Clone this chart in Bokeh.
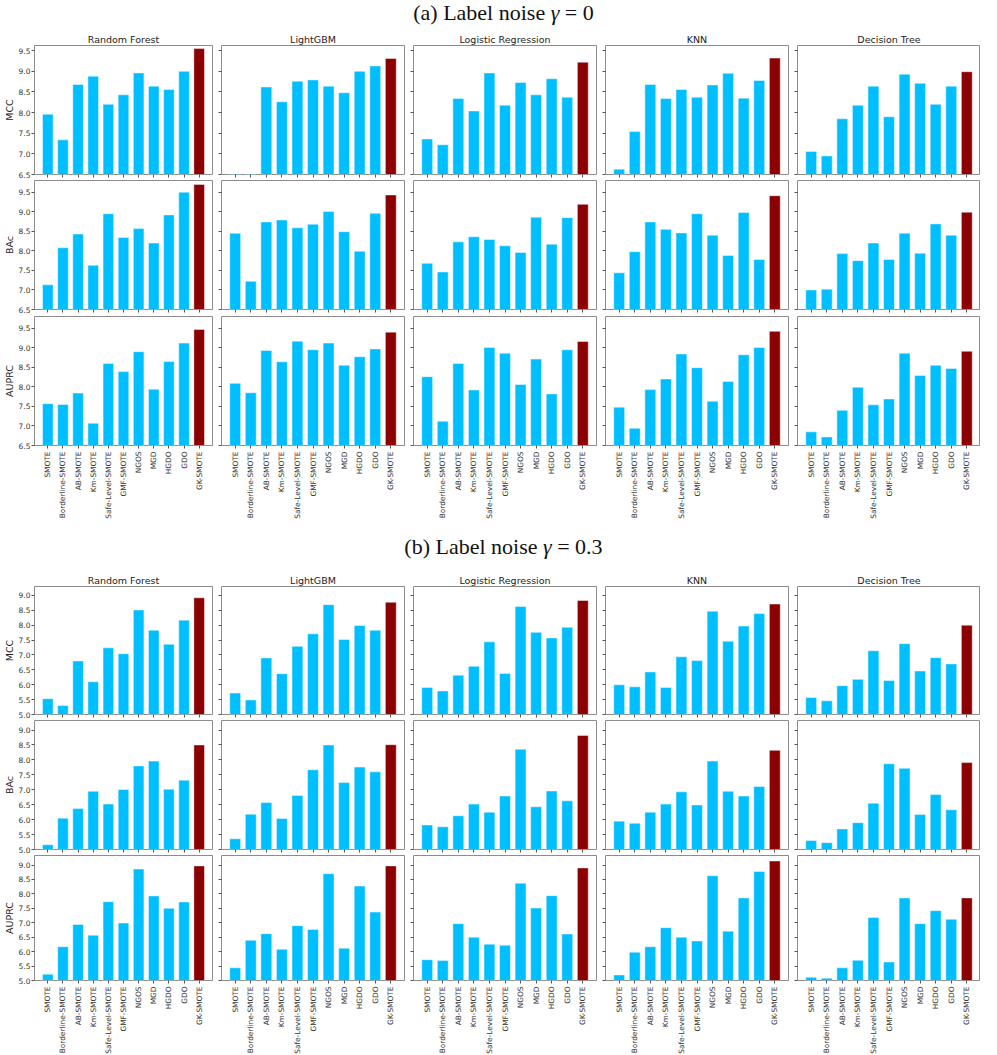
import math
from bokeh.plotting import figure
from bokeh.models import Range1d, FixedTicker, PrintfTickFormatter, ColumnDataSource, Div
from bokeh.layouts import column, row
from bokeh.embed import file_html
from bokeh.resources import INLINE

# ---------------- data ----------------
methods = ["SMOTE", "Borderline-SMOTE", "AB-SMOTE", "Km-SMOTE", "Safe-Level-SMOTE",
           "GMF-SMOTE", "NGOS", "MGD", "HGDO", "GDO", "GK-SMOTE"]
models = ["Random Forest", "LightGBM", "Logistic Regression", "KNN", "Decision Tree"]
metrics = ["MCC", "BAc", "AUPRC"]

# (a) label noise gamma = 0
mcc_g0_rf = [7.96, 7.34, 8.68, 8.88, 8.20, 8.43, 8.96, 8.64, 8.56, 9.00, 9.55]
mcc_g0_lgbm = [6.30, 6.20, 8.62, 8.26, 8.76, 8.79, 8.64, 8.48, 9.00, 9.13, 9.31]
mcc_g0_lr = [7.36, 7.22, 8.34, 8.04, 8.96, 8.18, 8.73, 8.43, 8.82, 8.37, 9.22]
mcc_g0_knn = [6.63, 7.54, 8.68, 8.34, 8.56, 8.37, 8.67, 8.95, 8.35, 8.78, 9.32]
mcc_g0_dt = [7.06, 6.95, 7.85, 8.18, 8.64, 7.90, 8.93, 8.71, 8.20, 8.64, 8.99]

bac_g0_rf = [7.13, 8.08, 8.43, 7.63, 8.95, 8.34, 8.57, 8.20, 8.92, 9.50, 9.70]
bac_g0_lgbm = [8.45, 7.22, 8.74, 8.79, 8.59, 8.68, 9.01, 8.49, 7.99, 8.96, 9.43]
bac_g0_lr = [7.68, 7.46, 8.23, 8.36, 8.29, 8.13, 7.96, 8.86, 8.17, 8.85, 9.19]
bac_g0_knn = [7.44, 7.98, 8.74, 8.55, 8.46, 8.95, 8.40, 7.88, 8.98, 7.78, 9.41]
bac_g0_dt = [7.00, 7.02, 7.93, 7.75, 8.20, 7.78, 8.45, 7.94, 8.69, 8.40, 8.99]

auprc_g0_rf = [7.57, 7.55, 7.84, 7.07, 8.60, 8.39, 8.90, 7.94, 8.65, 9.12, 9.47]
auprc_g0_lgbm = [8.09, 7.85, 8.93, 8.64, 9.17, 8.95, 9.12, 8.55, 8.77, 8.97, 9.40]
auprc_g0_lr = [8.26, 7.12, 8.60, 7.92, 9.01, 8.86, 8.06, 8.71, 7.82, 8.95, 9.16]
auprc_g0_knn = [7.48, 6.94, 7.93, 8.20, 8.84, 8.49, 7.63, 8.14, 8.82, 9.01, 9.42]
auprc_g0_dt = [6.85, 6.72, 7.40, 7.99, 7.54, 7.69, 8.86, 8.29, 8.55, 8.47, 8.91]

# (b) label noise gamma = 0.3
mcc_g3_rf = [5.53, 5.30, 6.80, 6.10, 7.24, 7.04, 8.51, 7.83, 7.36, 8.17, 8.92]
mcc_g3_lgbm = [5.72, 5.49, 6.90, 6.37, 7.29, 7.71, 8.69, 7.52, 7.99, 7.83, 8.77]
mcc_g3_lr = [5.91, 5.79, 6.32, 6.62, 7.44, 6.38, 8.63, 7.76, 7.57, 7.93, 8.83]
mcc_g3_knn = [6.00, 5.93, 6.43, 5.91, 6.94, 6.81, 8.47, 7.46, 7.97, 8.39, 8.71]
mcc_g3_dt = [5.57, 5.46, 5.97, 6.18, 7.14, 6.14, 7.38, 6.46, 6.91, 6.70, 8.00]

bac_g3_rf = [5.16, 6.05, 6.37, 6.95, 6.52, 7.01, 7.80, 7.96, 7.02, 7.32, 8.50]
bac_g3_lgbm = [5.36, 6.18, 6.57, 6.04, 6.81, 7.67, 8.50, 7.24, 7.76, 7.60, 8.51]
bac_g3_lr = [5.82, 5.76, 6.13, 6.52, 6.25, 6.79, 8.36, 6.43, 6.96, 6.63, 8.82]
bac_g3_knn = [5.95, 5.88, 6.25, 6.52, 6.93, 6.49, 7.96, 6.95, 6.79, 7.11, 8.32]
bac_g3_dt = [5.30, 5.23, 5.69, 5.90, 6.55, 7.87, 7.72, 6.17, 6.84, 6.33, 7.91]

auprc_g3_rf = [5.22, 6.17, 6.94, 6.57, 7.73, 6.99, 8.86, 7.93, 7.50, 7.72, 8.97]
auprc_g3_lgbm = [5.44, 6.39, 6.62, 6.08, 6.90, 6.77, 8.70, 6.12, 8.27, 7.37, 8.97]
auprc_g3_lr = [5.72, 5.69, 6.97, 6.50, 6.26, 6.22, 8.37, 7.51, 7.94, 6.61, 8.90]
auprc_g3_knn = [5.19, 5.98, 6.17, 6.83, 6.50, 6.37, 8.63, 6.71, 7.86, 8.78, 9.14]
auprc_g3_dt = [5.11, 5.08, 5.44, 5.70, 7.18, 5.64, 7.86, 6.97, 7.42, 7.12, 7.86]

yticks_g0 = [6.5, 7.0, 7.5, 8.0, 8.5, 9.0, 9.5]
yticks_g3 = [5.0, 5.5, 6.0, 6.5, 7.0, 7.5, 8.0, 8.5, 9.0]

section_a = [[mcc_g0_rf, mcc_g0_lgbm, mcc_g0_lr, mcc_g0_knn, mcc_g0_dt],
             [bac_g0_rf, bac_g0_lgbm, bac_g0_lr, bac_g0_knn, bac_g0_dt],
             [auprc_g0_rf, auprc_g0_lgbm, auprc_g0_lr, auprc_g0_knn, auprc_g0_dt]]
section_b = [[mcc_g3_rf, mcc_g3_lgbm, mcc_g3_lr, mcc_g3_knn, mcc_g3_dt],
             [bac_g3_rf, bac_g3_lgbm, bac_g3_lr, bac_g3_knn, bac_g3_dt],
             [auprc_g3_rf, auprc_g3_lgbm, auprc_g3_lr, auprc_g3_knn, auprc_g3_dt]]

# ---------------- style ----------------
FONT = "DejaVu Sans"
BLUE = "#00BFFF"
RED = "#8B0000"
FRAME_W = 183


def panel(vals, c, r, yrange, yticks, top_b, frame_h, bottom_b):
    lb = 29 if c == 0 else 8
    rb = 0 if c == 4 else 1
    p = figure(width=lb + FRAME_W + rb, height=top_b + frame_h + bottom_b,
               x_range=Range1d(-0.88, 10.88), y_range=Range1d(*yrange),
               output_backend="svg", toolbar_location=None,
               title=models[c] if r == 0 else None,
               min_border_left=lb, min_border_right=rb,
               min_border_top=top_b, min_border_bottom=bottom_b)
    colors = [BLUE] * (len(vals) - 1) + [RED]
    src = ColumnDataSource(dict(x=list(range(len(vals))), top=vals, color=colors))
    p.vbar(x="x", top="top", bottom=0, width=0.7, source=src,
           fill_color="color", line_color="white", line_alpha=0.45, line_width=1)
    p.background_fill_color = "white"
    p.border_fill_color = "white"
    p.outline_line_color = "#8c8c8c"
    p.outline_line_width = 1
    p.xgrid.visible = False
    p.ygrid.visible = False
    if r == 0:
        p.title.text_font = FONT
        p.title.text_font_size = "9.5px"
        p.title.text_font_style = "normal"
        p.title.text_color = "#222222"
        p.title.align = "center"
        p.title.standoff = 2
        p.title.offset = 0
    for ax in (p.xaxis[0], p.yaxis[0]):
        ax.axis_line_color = None
        ax.major_tick_line_color = "#555555"
        ax.major_tick_in = 0
        ax.major_tick_out = 3
        ax.minor_tick_line_color = None
        ax.major_label_text_font = FONT
        ax.major_label_text_color = "#333333"
    p.xaxis.ticker = FixedTicker(ticks=list(range(len(methods))))
    if r == 2:
        p.xaxis.major_label_overrides = {i: m for i, m in enumerate(methods)}
        p.xaxis.major_label_text_font_size = "7.4px"
        p.xaxis.major_label_orientation = math.pi / 2
        p.xaxis.major_label_standoff = 3
    else:
        p.xaxis.major_label_overrides = {i: "" for i in range(len(methods))}
        p.xaxis.major_label_text_font_size = "1px"
        p.xaxis.major_label_standoff = 0
    p.yaxis.ticker = FixedTicker(ticks=yticks)
    p.yaxis.formatter = PrintfTickFormatter(format="%.1f")
    if c == 0:
        p.yaxis.major_label_text_font_size = "7.5px"
        p.yaxis.major_label_standoff = 1
        p.yaxis.axis_label = metrics[r]
        p.yaxis.axis_label_text_font = FONT
        p.yaxis.axis_label_text_font_size = "9.5px"
        p.yaxis.axis_label_text_font_style = "normal"
        p.yaxis.axis_label_text_color = "#222222"
        p.yaxis.axis_label_standoff = 1
    else:
        p.yaxis.major_label_overrides = {t: "" for t in yticks}
        p.yaxis.major_label_text_font_size = "1px"
        p.yaxis.major_label_standoff = 0
    return p


def section(data, yranges, yticks, geoms):
    rows = []
    for r in range(3):
        top_b, frame_h, bottom_b = geoms[r]
        figs = [panel(data[r][c], c, r, yranges[r], yticks, top_b, frame_h, bottom_b)
                for c in range(5)]
        rows.append(row(*figs))
    return rows


def title_div(html, height, shift):
    style = ("font-family:'Liberation Serif','DejaVu Serif',serif;font-size:22px;"
             "line-height:22px;text-align:center;width:981px;padding-left:16px;"
             "box-sizing:border-box;color:#111;margin-top:%dpx;white-space:nowrap;" % shift)
    return Div(text='<div style="%s">%s</div>' % (style, html), width=981, height=height)


div_a = title_div("(a) Label noise <i>&gamma;</i> = 0", 20, -3)
div_b = title_div("(b) Label noise <i>&gamma;</i> = 0.3", 36, 6)

rows_a = section(section_a, [(6.5, 9.625), (6.5, 9.80), (6.5, 9.80)], yticks_g0,
                 [(14, 130, 5), (1, 129, 5), (2, 129, 80)])
rows_b = section(section_b, [(5.0, 9.30), (5.0, 9.32), (5.0, 9.33)], yticks_g3,
                 [(14, 129, 5), (1, 129, 5), (1, 129, 72)])

layout = column(div_a, *rows_a, div_b, *rows_b)

open("out.html", "w").write(file_html(layout, INLINE))
